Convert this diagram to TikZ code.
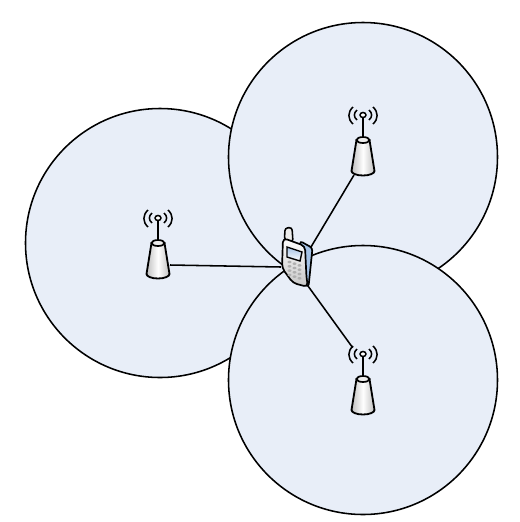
\documentclass[tikz,border=0pt]{standalone}
\usetikzlibrary{shadings}
\definecolor{cellblue}{RGB}{232,238,248}
\definecolor{phoneblue}{RGB}{165,195,230}
\definecolor{keygrey}{RGB}{175,175,175}
\tikzset{
  cell/.style={draw=black, fill=cellblue, line width=1.1pt},
  wave/.style={black, line width=1.1pt},
  link/.style={black, line width=1.1pt},
}

% Base station, origin at the centre of its foot
\newcommand{\basestation}[2]{
  \begin{scope}[shift={(#1,#2)}]
    \draw[line width=1.5pt] (0,-33) -- (0,-53);
    \draw[line width=1.1pt, fill=white] (0,-56) ellipse (3 and 2.5);
    \foreach \s in {-1,1} {
      \draw[wave] (\s*6,-61) .. controls (\s*9.5,-58) and (\s*9.5,-54) .. (\s*6,-51);
      \draw[wave] (\s*10,-64) .. controls (\s*15.5,-59) and (\s*15.5,-52) .. (\s*10,-47);
    }
    \draw[line width=1.3pt, left color=gray!50, right color=gray!50, middle color=white]
      (-6.5,-31) -- (-11.5,0) arc[start angle=180, end angle=360, x radius=11.5, y radius=-4.5]
      -- (6.5,-31) -- cycle;
    \draw[line width=1.2pt, fill=gray!15] (0,-31) ellipse (6.5 and 3);
  \end{scope}
}

\begin{document}
\begin{tikzpicture}[x=0.025cm, y=-0.025cm]
\useasboundingbox (0,0) rectangle (520,522);

%---------------------------------------
% Cells
%---------------------------------------
\draw[cell] (160,243) circle (134.5);
\draw[cell] (363,157) circle (134.5);
\draw[cell] (363,380) circle (134.5);

% Anchors of the links
\coordinate (towerL) at (170,265);
\coordinate (towerT) at (354,175);
\coordinate (towerB) at (352.7,347.7);
\coordinate (phoneL) at (281,267);
\coordinate (phoneT) at (311,247);
\coordinate (phoneB) at (308,286);

\draw[link] (towerL) -- (phoneL);
\draw[link] (towerT) -- (phoneT);
\draw[link] (towerB) -- (phoneB);

% Base stations
\basestation{158}{274}
\basestation{363}{171}
\basestation{363}{410}

%---------------------------------------
% Handset
%---------------------------------------
\draw[line width=1.1pt, fill=gray!15, rounded corners=2pt]
  (284.5,240) -- (285,228) -- (292,227.5) -- (293,242) -- cycle;
\draw[line width=1.2pt, fill=phoneblue, rounded corners=2pt]
  (300,241) -- (312.5,248) -- (308.5,287) -- (302,283) -- cycle;
\draw[line width=1.2pt, top color=white, bottom color=gray!45, rounded corners=3pt]
  (283,238) -- (305,246) -- (306.5,278) -- (308,287) -- (293,283) -- (282,268) -- cycle;
\draw[line width=1pt, top color=phoneblue, bottom color=white]
  (287,247) -- (302,252) -- (300,261) -- (287,257) -- cycle;
\foreach \r in {0,1,2,3} {
  \foreach \c in {0,1,2} {
    \fill[keygrey] ({289.5+\c*5},{262+\r*4.3+\c*1.7}) ellipse (2 and 1.3);
  }
}
\end{tikzpicture}
\end{document}
